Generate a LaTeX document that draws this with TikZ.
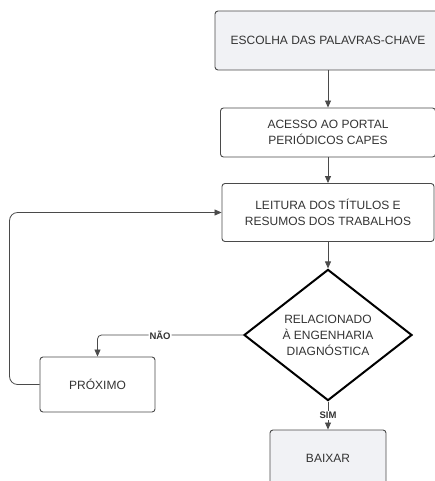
\documentclass[tikz,border=0pt]{standalone}
\usepackage{fontspec}
\setmainfont{Liberation Sans}
\usetikzlibrary{shapes.geometric,arrows.meta}
\definecolor{boxgray}{HTML}{F1F2F5}
\definecolor{linegray}{HTML}{4A4A4A}
\definecolor{textgray}{HTML}{333333}

\begin{document}
\begin{tikzpicture}[x=1pt, y=-1pt, >={Triangle[length=7pt,width=6pt]},
  etapa/.style={draw=linegray, line width=0.9pt, rounded corners=3pt, inner sep=0pt,
    align=center, text=textgray, font=\fontsize{12}{16}\selectfont},
  decisao/.style={diamond, draw=black, line width=2pt, inner sep=0pt,
    align=center, text=textgray, font=\fontsize{12}{16}\selectfont},
  conector/.style={->, draw=linegray, line width=0.8pt},
  rotulo/.style={fill=white, inner sep=1pt, text=textgray, font=\fontsize{9.5}{11}\selectfont\bfseries}]
\def\cx{328}
\useasboundingbox (0,0) rectangle (435,481);
\clip (0,0) rectangle (435,481);

% etapas
\node[etapa, fill=boxgray, minimum width=226pt, minimum height=59pt] (escolha) at (\cx,40.5) {ESCOLHA DAS PALAVRAS-CHAVE};
\node[etapa, minimum width=215pt, minimum height=49pt] (acesso) at (\cx,132.5) {ACESSO AO PORTAL\\PERIÓDICOS CAPES};
\node[etapa, minimum width=212pt, minimum height=58pt] (leitura) at (\cx,212.5) {LEITURA DOS TÍTULOS E\\RESUMOS DOS TRABALHOS};
\node[decisao, minimum width=168pt, minimum height=114pt] (relac) at (\cx,335) {RELACIONADO\\À ENGENHARIA\\DIAGNÓSTICA};
\node[etapa, minimum width=115pt, minimum height=55pt] (proximo) at (97.5,384.5) {PRÓXIMO};
\node[etapa, fill=boxgray, minimum width=116pt, minimum height=56pt] (baixar) at (\cx,458) {BAIXAR};

% conectores
\draw[conector] (escolha) -- (acesso);
\draw[conector] (acesso) -- (leitura);
\draw[conector] (leitura) -- (relac);
\draw[conector, rounded corners=4pt] (relac.west) -| node[rotulo, pos=0.285] {NÃO} (proximo.north);
\draw[conector, rounded corners=8pt] (proximo.west) -- ++(-30,0) |- (leitura.west);
\draw[conector] (relac.south) -- node[rotulo] {SIM} (baixar.north);
\end{tikzpicture}
\end{document}
